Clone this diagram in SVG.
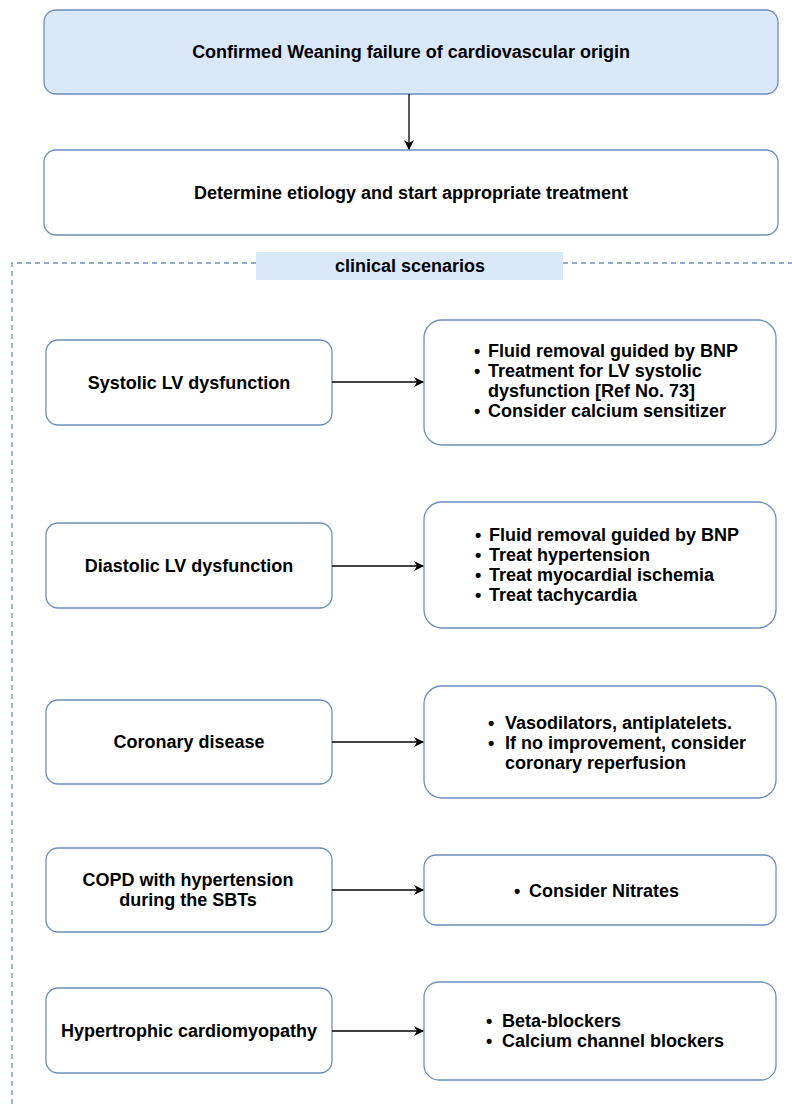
<svg xmlns="http://www.w3.org/2000/svg" width="792" height="1104" viewBox="0 0 792 1104">
<defs>
<marker id="arr" viewBox="0 0 10 10" refX="9" refY="5" markerWidth="10" markerHeight="10" markerUnits="userSpaceOnUse" orient="auto">
<path d="M0,0 L10,5 L0,10 L3,5 Z" fill="#000"/>
</marker>
</defs>
<style>
.box{fill:#fff;stroke:#6c8ebf;stroke-width:1.3}
.blue{fill:#dae8fc;stroke:#6c8ebf;stroke-width:1.3}
text{font-family:"Liberation Sans",Arial,Helvetica,sans-serif;font-weight:bold;font-size:18px;fill:#000}
.c{text-anchor:middle}
.dash{fill:none;stroke:#6c8ebf;stroke-width:1.3;stroke-dasharray:5 4}
.con{fill:none;stroke:#000;stroke-width:1.3;marker-end:url(#arr)}
</style>
<g id="container">
<path class="dash" d="M12,1104 L12,263 L258,263"/>
<path class="dash" d="M563,263 L792,263"/>
<rect x="256" y="252" width="307" height="28" fill="#dae8fc"/>
<text class="c" x="410" y="272">clinical scenarios</text>
</g>
<g id="n1">
<rect class="blue" x="44" y="10" width="734" height="84" rx="12"/>
<text class="c" x="411" y="58">Confirmed Weaning failure of cardiovascular origin</text>
</g>
<g id="n2">
<rect class="box" x="44" y="150" width="734" height="85" rx="12"/>
<text class="c" x="411" y="199">Determine etiology and start appropriate treatment</text>
</g>
<g id="s1">
<rect class="box" x="46" y="340" width="286" height="85" rx="12"/>
<text class="c" x="189" y="389">Systolic LV dysfunction</text>
</g>
<g id="t1">
<rect class="box" x="424" y="320" width="352" height="125" rx="18"/>
<text x="474" y="357">•</text><text x="488" y="357">Fluid removal guided by BNP</text>
<text x="474" y="377">•</text><text x="488" y="377">Treatment for LV systolic</text>
<text x="488" y="397">dysfunction [Ref No. 73]</text>
<text x="474" y="417">•</text><text x="488" y="417">Consider calcium sensitizer</text>
</g>
<g id="s2">
<rect class="box" x="46" y="523" width="286" height="85" rx="12"/>
<text class="c" x="189" y="572">Diastolic LV dysfunction</text>
</g>
<g id="t2">
<rect class="box" x="424" y="502" width="352" height="126" rx="18"/>
<text x="475" y="541">•</text><text x="489" y="541">Fluid removal guided by BNP</text>
<text x="475" y="561">•</text><text x="489" y="561">Treat hypertension</text>
<text x="475" y="581">•</text><text x="489" y="581">Treat myocardial ischemia</text>
<text x="475" y="601">•</text><text x="489" y="601">Treat tachycardia</text>
</g>
<g id="s3">
<rect class="box" x="46" y="700" width="286" height="84" rx="12"/>
<text class="c" x="189" y="748">Coronary disease</text>
</g>
<g id="t3">
<rect class="box" x="424" y="686" width="352" height="112" rx="18"/>
<text x="488" y="729">•</text><text x="505" y="729">Vasodilators, antiplatelets.</text>
<text x="488" y="749">•</text><text x="505" y="749">If no improvement, consider</text>
<text x="505" y="769">coronary reperfusion</text>
</g>
<g id="s4">
<rect class="box" x="46" y="848" width="286" height="84" rx="12"/>
<text class="c" x="188" y="886">COPD with hypertension</text>
<text class="c" x="188" y="906">during the SBTs</text>
</g>
<g id="t4">
<rect class="box" x="424" y="855" width="352" height="70" rx="12"/>
<text x="514" y="897">•</text><text x="529" y="897">Consider Nitrates</text>
</g>
<g id="s5">
<rect class="box" x="46" y="988" width="286" height="85" rx="12"/>
<text class="c" x="189" y="1037">Hypertrophic cardiomyopathy</text>
</g>
<g id="t5">
<rect class="box" x="424" y="982" width="352" height="98" rx="15"/>
<text x="486" y="1027">•</text><text x="502" y="1027">Beta-blockers</text>
<text x="486" y="1047">•</text><text x="502" y="1047">Calcium channel blockers</text>
</g>
<g id="connectors">
<path class="con" d="M409,94 L409,149"/>
<path class="con" d="M332,382 L423,382"/>
<path class="con" d="M332,566 L423,566"/>
<path class="con" d="M332,742 L423,742"/>
<path class="con" d="M332,890 L423,890"/>
<path class="con" d="M332,1031 L423,1031"/>
</g>
</svg>
